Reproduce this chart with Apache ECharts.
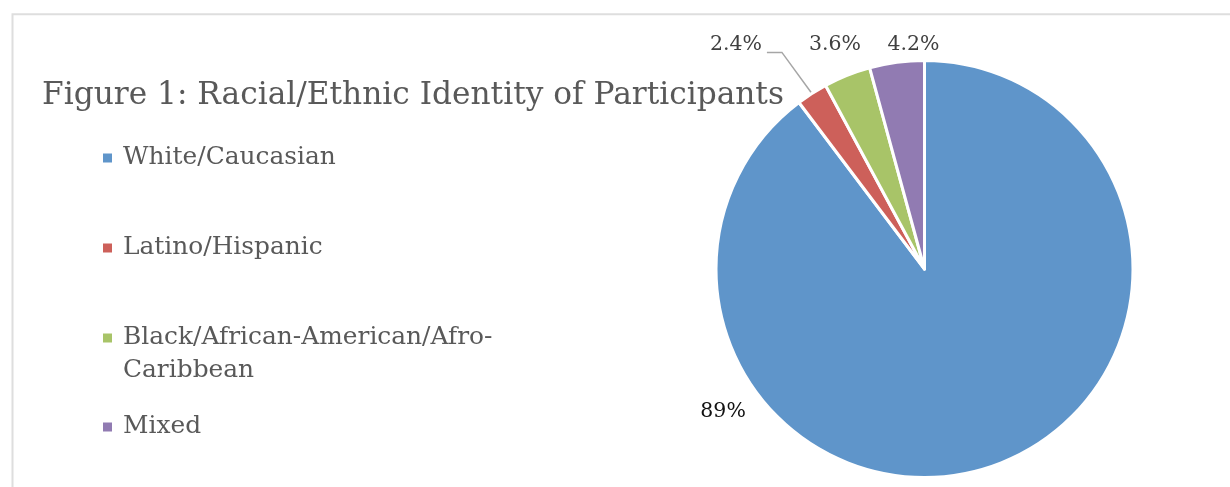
<!DOCTYPE html>
<html>
<head>
<meta charset="utf-8">
<script src="https://cdn.jsdelivr.net/npm/echarts@6/dist/echarts.min.js"></script>
<style>
  html, body { margin: 0; padding: 0; background: #ffffff; }
  #chart { width: 1230px; height: 487px; }
</style>
</head>
<body>
<div id="chart"></div>
<script>
// ---- data ----
const titleText = 'Figure 1: Racial/Ethnic Identity of Participants';
const categories = ['White/Caucasian', 'Latino/Hispanic', 'Black/African-American/Afro-Caribbean', 'Mixed'];
const legendLabels = ['White/Caucasian', 'Latino/Hispanic', 'Black/African-American/Afro-\nCaribbean', 'Mixed'];
const values = [89, 2.4, 3.6, 4.2];

// ---- styles / layout ----
const colors = ['#5F95CA', '#CD605A', '#A8C468', '#917BB2'];
const FONT = 'DejaVu Serif';
const CX = 924.5, CY = 269, R = 207, BORDER = 3;
// label anchor offsets (fractions of radius, relative to pie centre)
const labelOffsets = [[-0.973, 0.69], [-0.911, -1.085], [-0.432, -1.085], [-0.053, -1.085]];
const legendCenters = [158, 248, 338, 427];

const cvs = document.createElement('canvas').getContext('2d');
function fit(text, target, base) {
  cvs.font = base + 'px "' + FONT + '"';
  return +(base * target / cvs.measureText(text).width).toFixed(2);
}
const titleSize = fit(titleText, 742, 33);
const legendSize = fit('White/Caucasian', 213, 26);
const labelSize = fit('2.4%', 52, 24);
const LH = Math.round(legendSize * 1.31);

const total = values.reduce((a, b) => a + b, 0);
function midAngle(i) {
  let start = 90;
  for (let k = 0; k < i; k++) start -= 360 * values[k] / total;
  return (start - 180 * values[i] / total) * Math.PI / 180;
}

const chart = echarts.init(document.getElementById('chart'), null, { renderer: 'canvas' });

const legends = categories.map((name, i) => {
  const lines = legendLabels[i].split('\n').length;
  const txt = lines > 1 ? '\n' + legendLabels[i] : legendLabels[i];
  const h = lines > 1 ? LH * (2 * lines - 1) : LH;
  return {
    data: [name],
    orient: 'vertical',
    left: 101,
    top: legendCenters[i] - h / 2,
    padding: 0,
    itemWidth: 11,
    itemHeight: 11,
    icon: 'rect',
    selectedMode: false,
    formatter: () => txt,
    textStyle: {
      fontFamily: FONT,
      fontSize: legendSize,
      color: '#595959',
      lineHeight: LH,
      padding: [0, 0, 0, 5]
    }
  };
});

const option = {
  backgroundColor: '#ffffff',
  animation: false,
  color: colors,
  graphic: [{
    type: 'rect',
    shape: { x: 12.5, y: 14.3, width: 1400, height: 700 },
    style: { fill: 'none', stroke: '#dedede', lineWidth: 2 },
    silent: true,
    z: -10
  }],
  title: {
    text: titleText,
    left: 42,
    top: 76,
    padding: 0,
    textStyle: {
      fontFamily: FONT,
      fontWeight: 'normal',
      fontSize: titleSize,
      color: '#595959',
      lineHeight: 40
    }
  },
  legend: legends,
  series: [{
    type: 'pie',
    center: [CX, CY],
    radius: R + BORDER / 2,
    startAngle: 90,
    clockwise: true,
    avoidLabelOverlap: false,
    itemStyle: { borderColor: '#ffffff', borderWidth: BORDER },
    label: {
      show: true,
      position: 'outside',
      formatter: p => p.value + '%',
      fontFamily: FONT,
      fontSize: labelSize,
      color: '#404040'
    },
    labelLine: { show: false, lineStyle: { color: '#a6a6a6', width: 1.5 } },
    labelLayout: function (params) {
      const i = params.dataIndex;
      const x = CX + labelOffsets[i][0] * R;
      const y = CY + labelOffsets[i][1] * R;
      const res = { x: x, y: y, align: 'center', verticalAlign: 'middle' };
      if (i === 1) {
        const w = params.labelRect.width;
        const a = midAngle(i);
        const ex = CX + R * 1.0 * Math.cos(a);
        const ey = CY - R * 1.0 * Math.sin(a);
        res.labelLinePoints = [[x + w / 2 + 5, y + 8], [x + w / 2 + 20, y + 8], [ex, ey]];
      }
      return res;
    },
    data: categories.map((name, i) => ({
      name: name,
      value: values[i],
      label: i === 0 ? { color: '#111111' } : undefined,
      labelLine: { show: i === 1 }
    }))
  }]
};
chart.setOption(option);
</script>
</body>
</html>
